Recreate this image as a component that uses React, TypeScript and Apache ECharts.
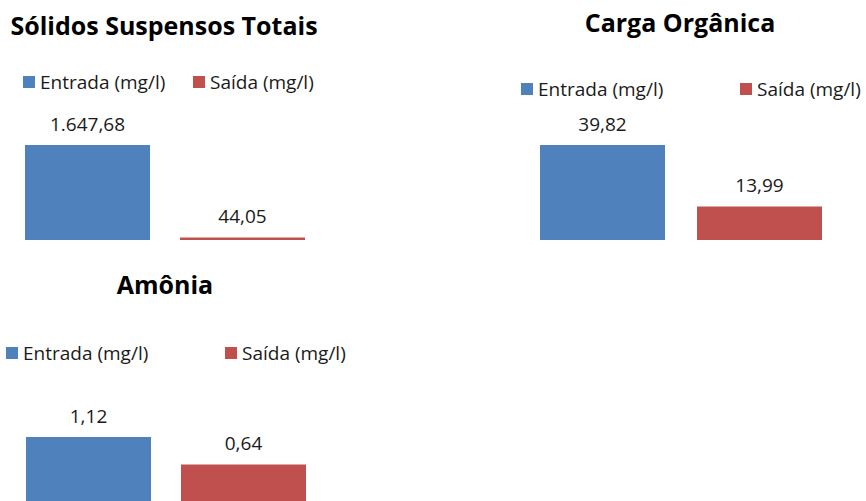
import React, { useEffect, useRef } from "react";
import * as echarts from "echarts";

const chartTitles = ["Sólidos Suspensos Totais", "Carga Orgânica", "Amônia"];
const seriesNames = ["Entrada (mg/l)", "Saída (mg/l)"];
const entrada = [1647.68, 39.82, 1.12];
const saida = [44.05, 13.99, 0.64];
const categories = [""];

const BLUE = "#4F81BD";
const RED = "#C0504D";
const FONT = "'Open Sans', Lato, sans-serif";

function fmt(v: number): string {
  const [i, d] = v.toFixed(2).split(".");
  const withSep = i.replace(/\B(?=(\d{3})+(?!\d))/g, ".");
  return withSep + "," + d;
}

// layout per chart
const layouts = [
  { titleX: 164, titleY: 12, legendY: 83, leg1X: 23, leg2X: 193, gridLeft: 25, gridTop: 145, gridW: 280, gridH: 95, gap: "24%" },
  { titleX: 680, titleY: 9, legendY: 90, leg1X: 521, leg2X: 740, gridLeft: 540, gridTop: 145, gridW: 282, gridH: 95, gap: "25.6%" },
  { titleX: 165, titleY: 271, legendY: 354, leg1X: 6, leg2X: 225, gridLeft: 26, gridTop: 437, gridW: 280, gridH: 68, gap: "24%" },
];

export default function App() {
  const ref = useRef<HTMLDivElement>(null);
  useEffect(() => {
    if (!ref.current) return;
    const chart = echarts.init(ref.current, undefined, { renderer: "svg" });

    const title: any[] = [];
    const legend: any[] = [];
    const grid: any[] = [];
    const xAxis: any[] = [];
    const yAxis: any[] = [];
    const series: any[] = [];

    const labelStyle = {
      show: true,
      position: "top",
      distance: 12,
      fontFamily: FONT,
      fontSize: 19,
      color: "#1a1a1a",
      formatter: (p: any) => fmt(p.value as number),
    };

    chartTitles.forEach((t, k) => {
      const L = layouts[k];
      title.push({
        text: t,
        left: L.titleX,
        top: L.titleY,
        padding: 0,
        textAlign: "center",
        textStyle: { fontFamily: FONT, fontSize: 25, fontWeight: "bold", color: "#000" },
      });
      [L.leg1X, L.leg2X].forEach((lx, j) => {
        legend.push({
          data: [seriesNames[j]],
          left: lx,
          top: L.legendY - 10.5,
          padding: 0,
          icon: "rect",
          itemWidth: 12,
          itemHeight: 12,
          selectedMode: false,
          textStyle: { fontFamily: FONT, fontSize: 19, color: "#1a1a1a" },
        });
      });
      grid.push({ left: L.gridLeft, top: L.gridTop, width: L.gridW, height: L.gridH, containLabel: false });
      xAxis.push({
        type: "category",
        gridIndex: k,
        data: categories,
        axisLine: { show: false },
        axisTick: { show: false },
        axisLabel: { show: false },
      });
      yAxis.push({
        type: "value",
        gridIndex: k,
        min: 0,
        max: "dataMax",
        show: false,
        splitLine: { show: false },
      });
      series.push({
        name: seriesNames[0],
        type: "bar",
        xAxisIndex: k,
        yAxisIndex: k,
        data: [entrada[k]],
        barWidth: 125,
        barGap: L.gap,
        itemStyle: { color: BLUE },
        label: labelStyle,
      });
      series.push({
        name: seriesNames[1],
        type: "bar",
        xAxisIndex: k,
        yAxisIndex: k,
        data: [saida[k]],
        barWidth: 125,
        barGap: L.gap,
        itemStyle: { color: RED },
        label: labelStyle,
      });
    });

    chart.setOption({
      animation: false,
      backgroundColor: "#ffffff",
      title,
      legend,
      grid,
      xAxis,
      yAxis,
      series,
    });
    return () => chart.dispose();
  }, []);
  return (
    <div
      ref={ref}
      style={{ position: "fixed", left: 0, top: 0, width: 866, height: 501 }}
    />
  );
}
